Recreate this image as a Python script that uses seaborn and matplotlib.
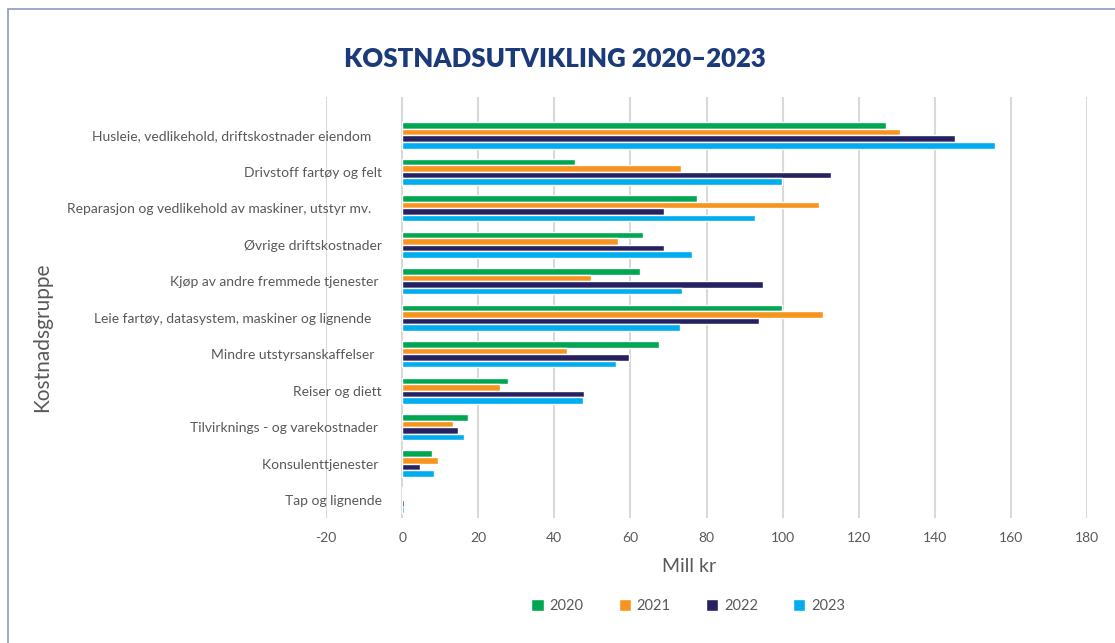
import matplotlib
matplotlib.use("Agg")
import matplotlib.pyplot as plt
import seaborn as sns
import pandas as pd
from matplotlib.patches import Rectangle

sns.set_theme(style="white")
plt.rcParams['font.family'] = ['Lato', 'DejaVu Sans']

categories = [
    'Husleie, vedlikehold, driftskostnader eiendom   ',
    'Drivstoff fartøy og felt',
    'Reparasjon og vedlikehold av maskiner, utstyr mv.   ',
    'Øvrige driftskostnader',
    'Kjøp av andre fremmede tjenester ',
    'Leie fartøy, datasystem, maskiner og lignende   ',
    'Mindre utstyrsanskaffelser  ',
    'Reiser og diett',
    'Tilvirknings - og varekostnader ',
    'Konsulenttjenester ',
    'Tap og lignende',
]
years = ['2020', '2021', '2022', '2023']
v2020 = [127.1, 45.3, 77.6, 63.4, 62.5, 99.8, 67.5, 27.7, 17.3, 7.8, 0.1]
v2021 = [130.7, 73.2, 109.6, 56.7, 49.7, 110.7, 43.3, 25.8, 13.4, 9.3, 0.0]
v2022 = [145.3, 112.7, 68.7, 68.7, 94.7, 93.8, 59.5, 47.7, 14.8, 4.7, 0.5]
v2023 = [155.7, 99.8, 92.8, 76.2, 73.5, 72.9, 56.2, 47.5, 16.2, 8.3, 0.4]
xticks = [-20, 0, 20, 40, 60, 80, 100, 120, 140, 160, 180]

colors = ['#00A651', '#F7941D', '#262262', '#00AEEF']
grey = '#595959'

rows = []
for yr, vals in zip(years, [v2020, v2021, v2022, v2023]):
    for c, v in zip(categories, vals):
        rows.append({'Kostnadsgruppe': c, 'Aar': yr, 'Verdi': v})
df = pd.DataFrame(rows)

fig = plt.figure(figsize=(11.15, 6.43), dpi=100)
ax = fig.add_axes([0.2924, 0.194, 0.6826, 0.655])

sns.barplot(data=df, y='Kostnadsgruppe', x='Verdi', hue='Aar', order=categories,
            hue_order=years, palette=colors, orient='h', width=0.72,
            saturation=1, errorbar=None, ax=ax, zorder=3)

ax.set_xlim(-20, 180)
ax.set_ylim(len(categories) - 0.5, -1.05)
ax.set_xticks(xticks)
ax.set_xticklabels([str(t) for t in xticks])
ax.grid(axis='x', color='#D9D9D9', linewidth=1.5, zorder=0)
ax.set_axisbelow(True)
for s in ax.spines.values():
    s.set_visible(False)

ax.tick_params(axis='y', length=0, pad=-40, labelsize=10, labelcolor=grey)
ax.tick_params(axis='x', length=0, pad=10, labelsize=10, labelcolor=grey)
for lab in ax.get_yticklabels():
    lab.set_horizontalalignment('right')

ax.set_ylabel('')
ax.set_xlabel('Mill kr', fontsize=14, color=grey)
ax.xaxis.set_label_coords(0.477, -0.095)
fig.text(0.038, 0.476, 'Kostnadsgruppe', rotation=90, fontsize=15, color=grey,
         ha='center', va='center')

fig.text(0.4975, 0.908, 'KOSTNADSUTVIKLING 2020–2023', fontsize=18.5, fontweight='heavy',
         color='#1B3A7A', ha='center', va='center')

ax.legend(loc='center', bbox_to_anchor=(0.476, -0.208), ncol=4, frameon=False,
          fontsize=10.5, labelcolor=grey, handlelength=0.85, handleheight=0.85,
          handletextpad=0.4, columnspacing=2.4)

fig.patches.append(Rectangle((8 / 1115, -0.01), 1.2, 1 - 9 / 643 + 0.01,
                             transform=fig.transFigure, fill=False,
                             edgecolor='#8A9CC4', linewidth=1.2))

fig.savefig('out.png', dpi=100)
